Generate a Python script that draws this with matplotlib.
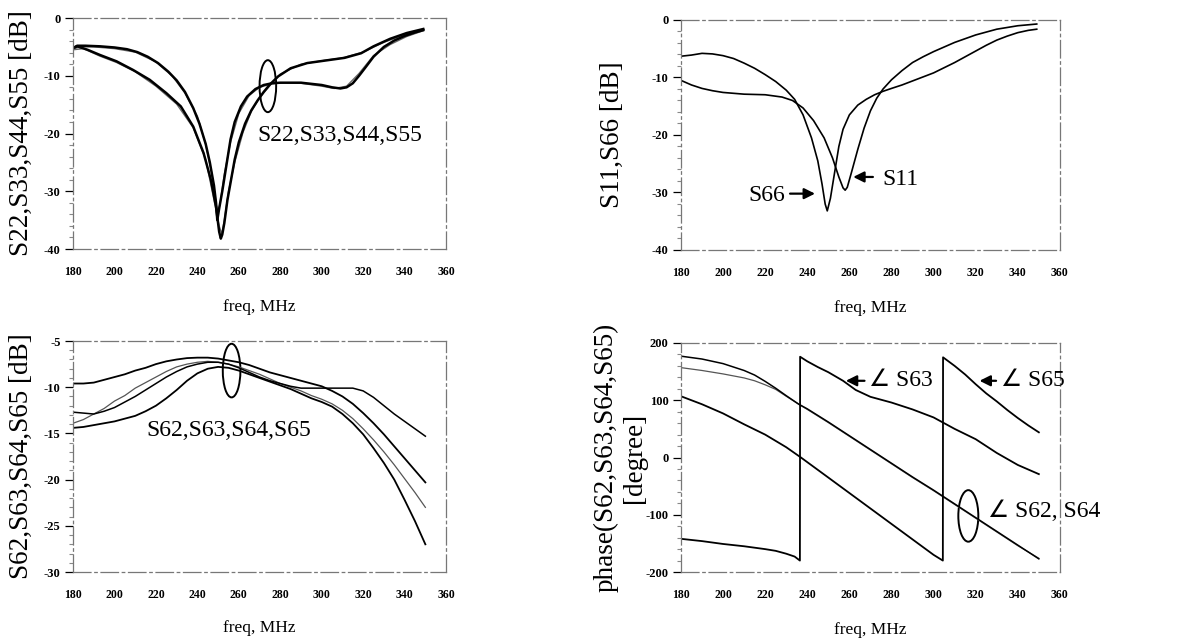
import matplotlib
matplotlib.use("Agg")
import matplotlib.pyplot as plt
from matplotlib.patches import Ellipse
from matplotlib.ticker import MultipleLocator

plt.rcParams["font.family"] = ["Liberation Serif", "DejaVu Sans"]
plt.rcParams["axes.unicode_minus"] = False

# ---- top left: S22, S33, S44, S55 (dB) ----
f_s22 = [180, 182, 186, 193, 200, 206, 211, 216, 221, 226, 230, 234, 238, 241, 244, 246, 248, 249, 249.6,
         250.5, 252, 254, 256, 258, 261, 264, 268, 272, 276, 280, 285, 290, 295, 300, 305, 309, 312, 315,
         318, 321, 325, 330, 335, 340, 345, 349]
s22 = [-5.2, -4.8, -4.8, -4.9, -5.1, -5.4, -5.9, -6.7, -7.8, -9.3, -10.8, -12.8, -15.6, -18.3, -21.8, -25, -29,
       -32, -35, -33, -30, -25.5, -21, -18, -15.3, -13.6, -12.3, -11.6, -11.3, -11.2, -11.2, -11.2, -11.4,
       -11.6, -12.0, -12.2, -12.0, -11.3, -10.0, -8.6, -6.7, -5.0, -3.9, -3.1, -2.5, -2.1]
f_s33 = [180, 183, 190, 200, 210, 220, 228, 234, 240, 244, 247, 248.8, 249.8, 251, 253, 256, 260, 265, 270,
         276, 282, 290, 300, 306, 312, 318, 325, 333, 341, 349]
s33 = [-5.4, -5.0, -5.0, -5.3, -5.9, -7.6, -10.1, -13.0, -17.0, -21.9, -27.0, -31.5, -34.0, -32.0, -27.0,
       -21.5, -16.5, -13.4, -12.0, -11.4, -11.2, -11.3, -11.8, -12.2, -11.8, -9.6, -6.5, -4.6, -3.2, -2.2]
f_s44 = [180, 182, 187, 193, 201, 209, 217, 225, 232, 238, 243, 246.5, 249, 250.5, 251.3, 252, 253, 254.5,
         256, 258, 260, 263, 266, 269, 272, 275, 279, 285, 293, 303, 311, 319, 325, 333, 341, 349]
s44 = [-5.2, -4.9, -5.5, -6.4, -7.5, -9.0, -10.7, -13.0, -15.3, -18.8, -23.4, -28.0, -32.7, -37.0, -38.2,
       -37.5, -35.5, -31.5, -28.5, -24.5, -21.5, -18.3, -16.0, -14.3, -12.8, -11.5, -10.1, -8.7, -7.8, -7.3,
       -6.9, -6.1, -4.9, -3.6, -2.6, -1.9]
f_s55 = [180, 185, 193, 201, 210, 220, 230, 238, 244, 248, 250.5, 251.8, 253, 255, 258, 262, 266, 270, 275,
         280, 290, 300, 310, 320, 330, 340, 349]
s55 = [-5.5, -5.3, -6.6, -7.7, -9.3, -11.8, -14.9, -19.0, -24.5, -31.5, -36.0, -37.4, -35.0, -30.0, -25.0,
       -19.8, -16.2, -13.8, -11.7, -9.7, -8.0, -7.4, -6.9, -5.9, -4.2, -2.9, -2.0]

# ---- top right: S11, S66 (dB) ----
f_s66 = [180, 185, 190, 195, 200, 205, 210, 215, 220, 225, 230, 234, 238, 242, 245, 247, 248.5, 249.5, 251,
         253, 255, 257, 260, 264, 268, 272, 276, 280, 285, 290, 295, 300, 305, 310, 315, 320, 325, 330, 335,
         340, 345, 349]
s66 = [-6.3, -6.1, -5.8, -5.9, -6.2, -6.7, -7.5, -8.4, -9.5, -10.7, -12.2, -13.8, -16.5, -20.5, -24.5, -28.5,
       -32, -33.2, -31, -26.5, -22, -19, -16.5, -14.8, -13.8, -13.0, -12.4, -11.9, -11.3, -10.6, -9.9, -9.2,
       -8.3, -7.4, -6.4, -5.4, -4.4, -3.5, -2.8, -2.2, -1.8, -1.6]
f_s11 = [180, 185, 190, 195, 200, 210, 220, 228, 233, 238, 243, 248, 252, 255, 257, 258, 259, 261, 264, 267,
         270, 273, 276, 280, 285, 290, 295, 300, 310, 320, 330, 340, 349]
s11 = [-10.5, -11.3, -11.9, -12.3, -12.6, -12.9, -13.0, -13.4, -14.0, -15.3, -17.5, -20.5, -24, -27.3, -29.2,
       -29.6, -29.1, -26.5, -22.5, -18.8, -15.8, -13.6, -12.0, -10.4, -8.8, -7.4, -6.4, -5.5, -3.9, -2.6,
       -1.6, -1.0, -0.7]

# ---- bottom left: S62, S63, S64, S65 (dB) ----
f_mag = [180, 185, 190, 195, 200, 205, 210, 215, 220, 225, 230, 235, 240, 245, 250, 255, 260, 265, 270, 275,
         280, 285, 290, 295, 300, 305, 310, 315, 320, 325, 330, 335, 340, 345, 350]
s62 = [-9.6, -9.6, -9.5, -9.2, -8.9, -8.6, -8.2, -7.9, -7.5, -7.2, -7.0, -6.85, -6.8, -6.8, -6.9, -7.1, -7.3,
       -7.6, -8.0, -8.4, -8.7, -9.0, -9.3, -9.6, -9.9, -10.4, -11.0, -11.8, -12.8, -13.9, -15.1, -16.4,
       -17.7, -19.0, -20.3]
s63 = [-13.9, -13.5, -12.9, -12.3, -11.5, -10.9, -10.1, -9.5, -8.9, -8.3, -7.8, -7.5, -7.3, -7.2, -7.3, -7.5,
       -7.8, -8.2, -8.6, -9.1, -9.6, -10.0, -10.4, -10.9, -11.3, -11.8, -12.5, -13.4, -14.5, -15.7, -17.0,
       -18.4, -19.9, -21.4, -23.0]
s64 = [-14.4, -14.3, -14.1, -13.9, -13.7, -13.4, -13.1, -12.6, -12.0, -11.2, -10.3, -9.3, -8.5, -8.0, -7.8,
       -7.9, -8.2, -8.6, -9.0, -9.4, -9.8, -10.2, -10.7, -11.2, -11.6, -12.1, -12.9, -13.9, -15.1, -16.6,
       -18.2, -20.0, -22.2, -24.5, -27.0]
s65 = [-12.7, -12.8, -12.9, -12.6, -12.2, -11.6, -11.0, -10.3, -9.6, -8.9, -8.3, -7.8, -7.5, -7.3, -7.3, -7.5,
       -7.9, -8.4, -8.9, -9.3, -9.6, -9.9, -10.1, -10.1, -10.1, -10.1, -10.1, -10.1, -10.4, -11.1, -12.0,
       -12.9, -13.7, -14.5, -15.3]

# ---- bottom right: phase (degree) ----
f_p62 = [180, 190, 200, 210, 215, 220, 225, 230, 236, 240, 250, 260, 270, 280, 290, 300, 310, 320, 330, 340, 350]
p62 = [177, 172, 164, 152, 144, 133, 121, 108, 93, 85, 62, 38, 14, -10, -34, -57, -81, -105, -129, -153, -177]
p64 = [157, 152, 146, 139, 134, 127, 119, 107, 93, 84, 61, 37, 13, -11, -35, -58, -82, -106, -130, -154, -176]
f_p63 = [180, 190, 200, 210, 220, 225, 230, 234, 236.5, 236.6, 240, 245, 250, 257, 263, 270, 280, 290, 300,
         304, 310, 320, 330, 340, 350]
p63 = [-142, -146, -151, -155, -160, -163, -168, -173, -180, 176, 168, 158, 149, 134, 118, 106, 96, 84, 70, 62,
       50, 32, 8, -13, -29]
f_p65 = [180, 190, 200, 210, 220, 230, 237, 250, 260, 270, 280, 290, 300, 304.4, 304.5, 310, 315, 320, 325,
         330, 335, 340, 345, 350]
p65 = [107, 93, 77, 58, 40, 18, 0, -35, -62, -89, -116, -143, -170, -180, 175, 160, 145, 128, 112, 98, 83, 69,
       56, 44]

freq_ticks = list(range(180, 361, 20))


def style(ax, yticks, yminor, ylabel, ylab_x, xlab_y):
    ax.set_xlim(180, 360)
    ax.set_ylim(min(yticks), max(yticks))
    ax.set_xticks(freq_ticks)
    ax.set_yticks(yticks)
    ax.yaxis.set_minor_locator(MultipleLocator(yminor))
    for sp in ax.spines.values():
        sp.set_color("#777777")
        sp.set_linewidth(0.9)
        sp.set_linestyle((0, (14, 3, 2, 3)))
    ax.tick_params(axis="x", length=0, pad=12, labelsize=8.5)
    ax.tick_params(axis="y", which="major", length=6, width=0.9, direction="out", labelsize=9, pad=3)
    ax.tick_params(axis="y", which="minor", length=3, width=0.8, color="#888888")
    for lbl in ax.get_xticklabels() + ax.get_yticklabels():
        lbl.set_fontweight("bold")
    ax.set_xlabel("freq, MHz", fontsize=12.5)
    ax.xaxis.set_label_coords(0.5, xlab_y)
    ax.set_ylabel(ylabel, fontsize=19.5, va="center")
    ax.yaxis.set_label_coords(ylab_x, 0.5)


fig = plt.figure(figsize=(11.82, 6.41), dpi=100)
ax1 = fig.add_axes([0.0618, 0.6115, 0.3156, 0.3604])
ax2 = fig.add_axes([0.5761, 0.6100, 0.3206, 0.3588])
ax3 = fig.add_axes([0.0618, 0.1076, 0.3156, 0.3604])
ax4 = fig.add_axes([0.5761, 0.1076, 0.3206, 0.3573])

# top left
ax1.plot(f_s33, s33, color="#666666", lw=1.0)
ax1.plot(f_s55, s55, color="#666666", lw=1.0)
ax1.plot(f_s22, s22, color="black", lw=1.8)
ax1.plot(f_s44, s44, color="black", lw=1.8)
ax1.add_patch(Ellipse((274, -11.8), 8, 9, fill=False, lw=1.4, color="black"))
ax1.text(269, -20.3, "S22,S33,S44,S55", fontsize=17, va="center", ha="left")
style(ax1, [-40, -30, -20, -10, 0], 2, "S22,S33,S44,S55 [dB]", -0.139, -0.216)

# top right
ax2.plot(f_s66, s66, color="black", lw=1.2)
ax2.plot(f_s11, s11, color="black", lw=1.2)
arrow = dict(arrowstyle="-|>", color="black", lw=1.6, mutation_scale=16)
ax2.annotate("", xy=(245, -30.2), xytext=(230.5, -30.2), arrowprops=arrow)
ax2.text(229.5, -30.6, "S66", fontsize=17, ha="right", va="center")
ax2.annotate("", xy=(260.5, -27.3), xytext=(272.5, -27.3), arrowprops=arrow)
ax2.text(275.5, -27.8, "S11", fontsize=17, ha="left", va="center")
style(ax2, [-40, -30, -20, -10, 0], 2, "S11,S66 [dB]", -0.182, -0.217)

# bottom left
ax3.plot(f_mag, s63, color="#555555", lw=0.9)
ax3.plot(f_mag, s62, color="black", lw=1.3)
ax3.plot(f_mag, s64, color="black", lw=1.3)
ax3.plot(f_mag, s65, color="black", lw=1.1)
ax3.add_patch(Ellipse((256.5, -8.2), 8.5, 5.8, fill=False, lw=1.4, color="black"))
ax3.text(215.5, -14.7, "S62,S63,S64,S65", fontsize=17, va="center", ha="left")
style(ax3, [-30, -25, -20, -15, -10, -5], 1, "S62,S63,S64,S65 [dB]", -0.139, -0.208)

# bottom right
ax4.plot(f_p62, p64, color="#555555", lw=0.9)
ax4.plot(f_p62, p62, color="black", lw=1.1)
ax4.plot(f_p63, p63, color="black", lw=1.3)
ax4.plot(f_p65, p65, color="black", lw=1.3)
ax4.annotate("", xy=(257, 134), xytext=(268.5, 134), arrowprops=arrow)
ax4.text(269.5, 134, "\u2220 S63", fontsize=17, ha="left", va="center")
ax4.annotate("", xy=(320.5, 134), xytext=(331, 134), arrowprops=arrow)
ax4.text(332, 134, "\u2220 S65", fontsize=17, ha="left", va="center", clip_on=False)
ax4.add_patch(Ellipse((316.5, -102), 9.5, 90, fill=False, lw=1.4, color="black"))
ax4.text(326, -93, "\u2220 S62, S64", fontsize=17, ha="left", va="center", clip_on=False)
style(ax4, [-200, -100, 0, 100, 200], 20, "phase(S62,S63,S64,S65)\n[degree]", -0.161, -0.218)

fig.savefig("out.png", dpi=100, facecolor="white")
